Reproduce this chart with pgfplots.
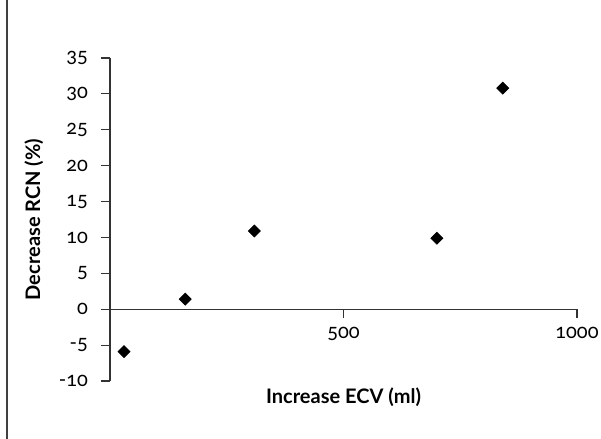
\documentclass[border=0pt]{standalone}
\usepackage{pgfplots}
\pgfplotsset{compat=1.18}
\usepackage{fontspec}
\setmainfont{Lato}[Numbers=OldStyle]
\begin{document}
\begin{tikzpicture}
  \path[use as bounding box] (0,0) rectangle (300.5pt,219.5pt);
  % frame line on the left
  \draw[black!75, line width=0.6pt] (3.5pt,0) -- (3.5pt,219.5pt);

  \begin{axis}[
      at={(55pt,29pt)},
      anchor=south west,
      scale only axis,
      width=233.5pt,
      height=161.5pt,
      xmin=0, xmax=1000,
      ymin=-10, ymax=35,
      axis x line=middle,
      axis y line=left,
      axis line style={-, black!80, line width=0.6pt},
      tick style={black!80, line width=0.6pt},
      tick align=outside,
      major tick length=4.5pt,
      xtick={500,1000},
      ytick={-10,-5,0,5,10,15,20,25,30,35},
      /pgf/number format/assume math mode=true,
      /pgf/number format/1000 sep={},
      tick label style={font=\fontsize{10}{11}\selectfont},
      xticklabel style={yshift=-1pt},
      yticklabel style={xshift=-3pt},
      xlabel={\textbf{Increase ECV (ml)}},
      ylabel={\textbf{Decrease RCN (\%)}},
      xlabel style={at={(axis description cs:0.5,0)}, anchor=north, yshift=0pt, font=\fontsize{10}{11}\selectfont},
      ylabel style={at={(axis description cs:-0.163,0.5)}, anchor=center, font=\fontsize{10}{11}\selectfont},
      clip=false,
    ]

    % data points
    \addplot[
      only marks,
      mark=square*,
      mark size=2.1pt,
      mark options={rotate=45, fill=black, draw=black},
    ]
    coordinates {
        (30,-5.9)
        (161,1.4)
        (309,10.9)
        (700,9.9)
        (841,30.8)
      };

  \end{axis}
\end{tikzpicture}
\end{document}
